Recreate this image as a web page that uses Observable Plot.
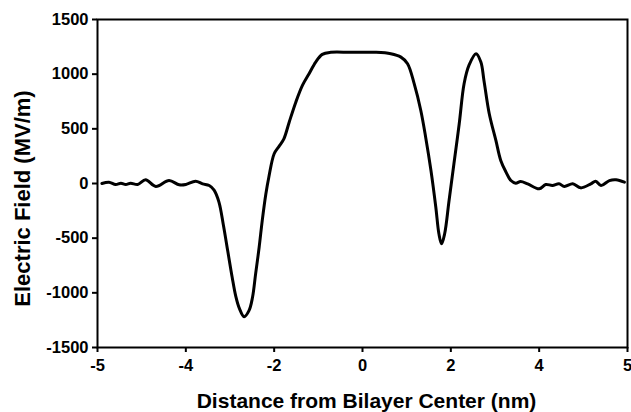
<!DOCTYPE html>
<html>
<head>
<meta charset="utf-8">
<script src="https://cdn.jsdelivr.net/npm/d3@7"></script>
<script src="https://cdn.jsdelivr.net/npm/@observablehq/plot@0.6"></script>
<style>
  body { margin: 0; background: #fff; }
  svg { font-family: "Liberation Sans", Arial, sans-serif; }
</style>
</head>
<body>
<div id="chart"></div>
<script>
// Distance from bilayer center (nm, plot units) and electric field (MV/m)
const distance = [
  -5.9, -5.74, -5.59, -5.47, -5.36, -5.25, -5.09, -4.91, -4.68, -4.38, -4.15, -4.0,
  -3.78, -3.62, -3.47, -3.36, -3.25, -3.15, -3.05, -2.95, -2.87, -2.79, -2.68, -2.57,
  -2.49, -2.42, -2.34, -2.27, -2.19, -2.12, -2.0, -1.89, -1.78, -1.66, -1.51, -1.36,
  -1.21, -1.06, -0.91, -0.72, -0.27, 0.3, 0.64, 0.87, 1.02, 1.17, 1.32, 1.43,
  1.55, 1.66, 1.73, 1.79, 1.86, 1.96, 2.07, 2.19, 2.30, 2.41, 2.57, 2.68,
  2.75, 2.87, 3.02, 3.13, 3.25, 3.36, 3.47, 3.58, 3.74, 4.0, 4.15, 4.30,
  4.45, 4.57, 4.76, 4.94, 5.17, 5.28, 5.40, 5.59, 5.74, 5.93
];
const field = [
  0, 12, -9, 3, -9, 3, -9, 34, -27, 27, -12, -9,
  21, -3, -18, -60, -170, -380, -620, -860, -1030, -1140, -1218, -1163,
  -1041, -827, -583, -339, -100, 60, 272, 340, 409, 561, 744, 897,
  1004, 1111, 1181, 1200, 1200, 1200, 1187, 1156, 1096, 913, 668, 424,
  119, -217, -460, -552, -460, -156, 180, 546, 913, 1080, 1187, 1111,
  943, 638, 394, 211, 104, 27, 3, 18, -3, -49, -9, -18,
  -3, -27, -3, -40, -3, 21, -18, 27, 34, 12
];
const xTicks = [-6, -4, -2, 0, 2, 4, 6];
const xTickLabels = ["-5", "-4", "-2", "0", "2", "4", "5"];
const yTicks = [-1500, -1000, -500, 0, 500, 1000, 1500];
const xTitle = "Distance from Bilayer Center (nm)";
const yTitle = "Electric Field (MV/m)";

const data = distance.map((d, i) => ({x: d, y: field[i]}));

const chart = Plot.plot({
  width: 631,
  height: 412,
  marginLeft: 97,
  marginTop: 19,
  marginRight: 4,
  marginBottom: 65,
  style: {fontFamily: "'Liberation Sans', Arial, sans-serif", fontSize: "16px", fontWeight: "bold", color: "#000", background: "#fff"},
  x: {domain: [-6, 6]},
  y: {domain: [-1500, 1500]},
  marks: [
    Plot.frame({stroke: "#000", strokeWidth: 2}),
    Plot.axisX({
      ticks: xTicks,
      tickFormat: (d) => xTickLabels[xTicks.indexOf(d)],
      tickSize: 5,
      tickPadding: 7,
      strokeWidth: 2,
      fontSize: 16.5,
      fontWeight: "bold",
      label: null
    }),
    Plot.axisY({
      ticks: yTicks,
      tickFormat: (d) => String(d),
      tickSize: 5,
      tickPadding: 4,
      strokeWidth: 2,
      fontSize: 16.5,
      fontWeight: "bold",
      label: null
    }),
    Plot.text([xTitle], {
      frameAnchor: "bottom", text: (d) => d, dy: 46, dx: 4,
      fontSize: 21, fontWeight: "bold", fill: "#000", lineAnchor: "top", textAnchor: "middle"
    }),
    Plot.text([yTitle], {
      frameAnchor: "left", text: (d) => d, dx: -75, dy: 15, rotate: -90,
      fontSize: 22, fontWeight: "bold", fill: "#000", textAnchor: "middle"
    }),
    Plot.line(data, {x: "x", y: "y", stroke: "#000", strokeWidth: 3, curve: "catmull-rom"})
  ]
});
document.getElementById("chart").appendChild(chart);
</script>
</body>
</html>
